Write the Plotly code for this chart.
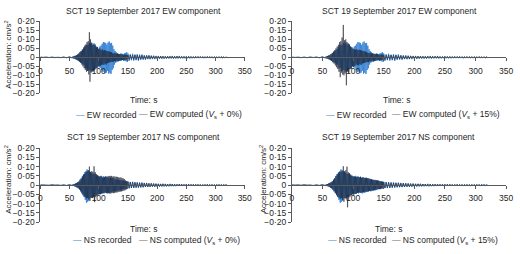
import plotly.graph_objects as go

W, H = 520, 254

# ---------------- data ----------------
time_s = [0, 5, 10, 15, 20, 25, 30, 35, 40, 45, 50, 55] + list(range(56, 151)) + list(range(152, 321, 2))

ew_recorded = [
    0.001, -0.001, 0.002, -0.001, 0.001, -0.002, 0.001, -0.001, 0.002, -0.002, 0.003, -0.004,
    0.005, -0.006, 0.008, -0.007, 0.010, -0.012, 0.009, -0.015, 0.018, -0.020,
    0.022, -0.025, 0.030, -0.028, 0.035, -0.032, 0.040, -0.038, 0.045, -0.042,
    0.055, -0.060, 0.065, -0.058, 0.070, -0.075, 0.068, -0.072, 0.080, -0.070,
    0.075, -0.078, 0.082, -0.080, 0.070, -0.075, 0.078, -0.068, 0.072, -0.065,
    0.060, -0.058, 0.055, -0.050, 0.048, -0.055, 0.060, -0.058, 0.065, -0.070,
    0.075, -0.080, 0.085, -0.078, 0.082, -0.088, 0.080, -0.085, 0.070, -0.075,
    0.082, -0.090, 0.088, -0.085, 0.078, -0.092, 0.080, -0.070, 0.065, -0.060,
    0.045, -0.040, 0.035, -0.030, 0.028, -0.025, 0.022, -0.025, 0.020, -0.018,
    0.018, -0.020, 0.022, -0.018, 0.020, -0.015, 0.018, -0.020, 0.022, -0.020,
    0.025, -0.022, 0.028, -0.025, 0.022,
    -0.020, 0.018, -0.016, 0.020, -0.018, 0.015, -0.016, 0.018, -0.020, 0.015,
    -0.014, 0.016, -0.013, 0.012, -0.014, 0.012, -0.010, 0.012, -0.011, 0.010,
    -0.010, 0.009, -0.010, 0.008, -0.009, 0.008, -0.008, 0.007, -0.008, 0.007,
    -0.007, 0.006, -0.007, 0.006, -0.006, 0.007, -0.006, 0.008, -0.007, 0.006,
    -0.006, 0.007, -0.006, 0.008, -0.006, 0.005, -0.006, 0.005, -0.005, 0.006,
    -0.005, 0.005, -0.006, 0.005, -0.005, 0.004, -0.005, 0.005, -0.004, 0.005,
    -0.004, 0.005, -0.004, 0.004, -0.005, 0.004, -0.004, 0.005, -0.004, 0.004,
    -0.004, 0.004, -0.005, 0.004, -0.004, 0.003, -0.004, 0.004, -0.003, 0.004,
    -0.003, 0.003, -0.003, 0.002, -0.002,
]

ew_computed_0 = [
    0.001, -0.001, 0.001, -0.001, 0.001, -0.001, 0.001, -0.002, 0.001, -0.002, 0.002, -0.003,
    0.004, -0.005, 0.006, -0.008, 0.007, -0.010, 0.012, -0.015, 0.014, -0.018,
    0.020, -0.024, 0.028, -0.030, 0.035, -0.040, 0.045, -0.050, 0.055, -0.060,
    0.065, -0.070, 0.072, -0.080, 0.085, -0.075, 0.090, -0.095, 0.140, -0.135,
    0.100, -0.085, 0.080, -0.075, 0.070, -0.078, 0.072, -0.068, 0.065, -0.060,
    0.055, -0.060, 0.058, -0.050, 0.045, -0.048, 0.050, -0.045, 0.040, -0.042,
    0.045, -0.040, 0.038, -0.042, 0.040, -0.035, 0.038, -0.040, 0.035, -0.032,
    0.035, -0.030, 0.032, -0.028, 0.030, -0.025, 0.028, -0.025, 0.022, -0.025,
    0.022, -0.020, 0.025, -0.022, 0.020, -0.018, 0.022, -0.020, 0.018, -0.020,
    0.018, -0.016, 0.018, -0.015, 0.016, -0.015, 0.014, -0.016, 0.015, -0.014,
    0.015, -0.013, 0.014, -0.012, 0.013,
    -0.012, 0.013, -0.011, 0.012, -0.012, 0.014, -0.011, 0.012, -0.013, 0.011,
    -0.010, 0.011, -0.010, 0.009, -0.010, 0.009, -0.008, 0.009, -0.008, 0.008,
    -0.007, 0.008, -0.007, 0.006, -0.007, 0.006, -0.006, 0.007, -0.006, 0.005,
    -0.006, 0.005, -0.005, 0.006, -0.005, 0.005, -0.005, 0.006, -0.005, 0.005,
    -0.005, 0.006, -0.005, 0.005, -0.004, 0.005, -0.004, 0.005, -0.005, 0.004,
    -0.004, 0.005, -0.004, 0.004, -0.004, 0.004, -0.004, 0.005, -0.004, 0.004,
    -0.004, 0.004, -0.003, 0.004, -0.004, 0.003, -0.004, 0.004, -0.003, 0.004,
    -0.003, 0.003, -0.004, 0.003, -0.003, 0.003, -0.003, 0.003, -0.003, 0.003,
    -0.003, 0.002, -0.002, 0.002, -0.002,
]

ew_computed_15 = [
    0.001, -0.001, 0.001, -0.002, 0.001, -0.001, 0.002, -0.001, 0.001, -0.002, 0.002, -0.003,
    0.004, -0.006, 0.007, -0.008, 0.010, -0.012, 0.014, -0.016, 0.018, -0.020,
    0.025, -0.028, 0.032, -0.035, 0.040, -0.045, 0.050, -0.055, 0.060, -0.065,
    0.070, -0.080, 0.085, -0.110, 0.090, -0.085, 0.110, -0.095, 0.180, -0.100,
    0.095, -0.090, 0.100, -0.155, 0.085, -0.080, 0.075, -0.085, 0.070, -0.065,
    0.060, -0.065, 0.055, -0.050, 0.048, -0.052, 0.045, -0.048, 0.042, -0.040,
    0.045, -0.042, 0.040, -0.045, 0.042, -0.038, 0.040, -0.042, 0.038, -0.035,
    0.036, -0.032, 0.034, -0.030, 0.032, -0.028, 0.030, -0.026, 0.025, -0.027,
    0.024, -0.022, 0.026, -0.023, 0.021, -0.020, 0.023, -0.021, 0.019, -0.021,
    0.019, -0.017, 0.019, -0.016, 0.017, -0.016, 0.015, -0.017, 0.016, -0.015,
    0.016, -0.014, 0.015, -0.013, 0.014,
    -0.013, 0.012, -0.012, 0.013, -0.011, 0.013, -0.012, 0.011, -0.012, 0.012,
    -0.010, 0.010, -0.009, 0.010, -0.009, 0.008, -0.009, 0.008, -0.008, 0.007,
    -0.008, 0.007, -0.006, 0.007, -0.006, 0.006, -0.007, 0.006, -0.005, 0.006,
    -0.005, 0.006, -0.005, 0.005, -0.006, 0.005, -0.004, 0.005, -0.005, 0.005,
    -0.004, 0.005, -0.004, 0.005, -0.005, 0.004, -0.004, 0.004, -0.004, 0.005,
    -0.004, 0.004, -0.003, 0.004, -0.004, 0.004, -0.003, 0.004, -0.004, 0.003,
    -0.003, 0.004, -0.003, 0.003, -0.003, 0.004, -0.003, 0.003, -0.003, 0.003,
    -0.003, 0.003, -0.003, 0.003, -0.002, 0.003, -0.002, 0.003, -0.002, 0.002,
    -0.002, 0.002, -0.002, 0.002, -0.001,
]

ns_recorded = [
    0.001, -0.001, 0.001, -0.001, 0.002, -0.001, 0.001, -0.002, 0.001, -0.002, 0.002, -0.003,
    0.004, -0.005, 0.006, -0.007, 0.009, -0.010, 0.012, -0.014, 0.016, -0.018,
    0.020, -0.025, 0.030, -0.035, 0.038, -0.045, 0.050, -0.055, 0.060, -0.065,
    0.070, -0.080, 0.075, -0.095, 0.085, -0.090, 0.080, -0.085, 0.075, -0.070,
    0.072, -0.068, 0.065, -0.070, 0.060, -0.065, 0.062, -0.058, 0.060, -0.055,
    0.052, -0.055, 0.050, -0.048, 0.045, -0.050, 0.048, -0.045, 0.050, -0.048,
    0.045, -0.042, 0.048, -0.045, 0.042, -0.040, 0.045, -0.042, 0.040, -0.045,
    0.042, -0.040, 0.038, -0.042, 0.040, -0.038, 0.036, -0.035, 0.038, -0.034,
    0.035, -0.032, 0.030, -0.034, 0.032, -0.030, 0.028, -0.030, 0.027, -0.028,
    0.026, -0.028, 0.025, -0.024, 0.026, -0.022, 0.024, -0.022, 0.020, -0.022,
    0.020, -0.018, 0.019, -0.017, 0.018,
    -0.016, 0.017, -0.015, 0.016, -0.014, 0.015, -0.013, 0.014, -0.013, 0.012,
    -0.012, 0.013, -0.011, 0.012, -0.010, 0.011, -0.010, 0.010, -0.009, 0.010,
    -0.009, 0.008, -0.009, 0.008, -0.008, 0.007, -0.008, 0.007, -0.007, 0.008,
    -0.007, 0.006, -0.007, 0.006, -0.006, 0.007, -0.006, 0.006, -0.006, 0.005,
    -0.006, 0.005, -0.005, 0.006, -0.005, 0.005, -0.005, 0.004, -0.005, 0.005,
    -0.004, 0.005, -0.004, 0.005, -0.004, 0.004, -0.005, 0.004, -0.004, 0.004,
    -0.004, 0.004, -0.004, 0.003, -0.004, 0.004, -0.003, 0.004, -0.003, 0.003,
    -0.003, 0.004, -0.003, 0.003, -0.003, 0.003, -0.003, 0.003, -0.003, 0.003,
    -0.002, 0.003, -0.002, 0.002, -0.002,
]

ns_computed_0 = [
    0.001, -0.001, 0.001, -0.001, 0.001, -0.001, 0.001, -0.001, 0.001, -0.002, 0.002, -0.002,
    0.003, -0.004, 0.005, -0.006, 0.008, -0.009, 0.010, -0.012, 0.014, -0.016,
    0.018, -0.022, 0.026, -0.030, 0.034, -0.040, 0.045, -0.050, 0.055, -0.060,
    0.060, -0.065, 0.070, -0.072, 0.075, -0.070, 0.080, -0.078, 0.100, -0.085,
    0.070, -0.068, 0.075, -0.070, 0.072, -0.065, 0.102, -0.092, 0.070, -0.065,
    0.060, -0.058, 0.055, -0.052, 0.050, -0.048, 0.045, -0.050, 0.048, -0.045,
    0.042, -0.045, 0.040, -0.042, 0.045, -0.040, 0.048, -0.044, 0.046, -0.042,
    0.048, -0.044, 0.050, -0.046, 0.048, -0.045, 0.050, -0.042, 0.046, -0.044,
    0.048, -0.042, 0.045, -0.040, 0.046, -0.040, 0.044, -0.038, 0.042, -0.036,
    0.040, -0.035, 0.042, -0.034, 0.038, -0.032, 0.036, -0.030, 0.032, -0.028,
    0.026, -0.024, 0.022, -0.020, 0.020,
    -0.018, 0.017, -0.016, 0.018, -0.015, 0.016, -0.014, 0.015, -0.013, 0.014,
    -0.012, 0.013, -0.012, 0.011, -0.010, 0.012, -0.010, 0.009, -0.010, 0.009,
    -0.008, 0.009, -0.008, 0.007, -0.008, 0.007, -0.007, 0.006, -0.007, 0.006,
    -0.006, 0.007, -0.006, 0.005, -0.006, 0.005, -0.005, 0.006, -0.005, 0.005,
    -0.005, 0.004, -0.005, 0.005, -0.004, 0.005, -0.004, 0.004, -0.004, 0.005,
    -0.004, 0.004, -0.004, 0.003, -0.004, 0.004, -0.003, 0.004, -0.003, 0.004,
    -0.003, 0.003, -0.004, 0.003, -0.003, 0.003, -0.003, 0.004, -0.003, 0.003,
    -0.003, 0.003, -0.003, 0.002, -0.003, 0.003, -0.002, 0.003, -0.002, 0.002,
    -0.002, 0.002, -0.002, 0.002, -0.001,
]

ns_computed_15 = [
    0.001, -0.001, 0.002, -0.001, 0.001, -0.001, 0.001, -0.002, 0.001, -0.001, 0.002, -0.003,
    0.003, -0.004, 0.006, -0.006, 0.008, -0.010, 0.011, -0.013, 0.015, -0.017,
    0.020, -0.024, 0.028, -0.032, 0.036, -0.042, 0.048, -0.052, 0.058, -0.062,
    0.065, -0.068, 0.070, -0.075, 0.072, -0.070, 0.078, -0.080, 0.102, -0.090,
    0.075, -0.072, 0.080, -0.078, 0.100, -0.120, 0.070, -0.068, 0.065, -0.062,
    0.058, -0.055, 0.052, -0.050, 0.048, -0.052, 0.046, -0.048, 0.044, -0.046,
    0.045, -0.042, 0.044, -0.040, 0.042, -0.040, 0.045, -0.042, 0.040, -0.038,
    0.042, -0.038, 0.040, -0.036, 0.038, -0.036, 0.040, -0.035, 0.036, -0.034,
    0.035, -0.032, 0.034, -0.030, 0.032, -0.030, 0.030, -0.028, 0.029, -0.027,
    0.028, -0.025, 0.026, -0.024, 0.025, -0.022, 0.023, -0.021, 0.022, -0.020,
    0.020, -0.019, 0.018, -0.017, 0.017,
    -0.016, 0.015, -0.016, 0.014, -0.015, 0.013, -0.014, 0.013, -0.012, 0.013,
    -0.011, 0.012, -0.011, 0.010, -0.011, 0.010, -0.009, 0.010, -0.009, 0.008,
    -0.009, 0.008, -0.007, 0.008, -0.007, 0.007, -0.006, 0.007, -0.006, 0.006,
    -0.006, 0.006, -0.005, 0.006, -0.005, 0.005, -0.006, 0.005, -0.005, 0.005,
    -0.004, 0.005, -0.005, 0.004, -0.005, 0.004, -0.004, 0.005, -0.004, 0.004,
    -0.004, 0.004, -0.003, 0.004, -0.004, 0.003, -0.004, 0.003, -0.003, 0.004,
    -0.003, 0.003, -0.003, 0.004, -0.003, 0.003, -0.003, 0.003, -0.003, 0.003,
    -0.003, 0.002, -0.003, 0.003, -0.002, 0.003, -0.002, 0.002, -0.002, 0.003,
    -0.002, 0.002, -0.002, 0.001, -0.001,
]

panel_titles = ["SCT 19 September 2017 EW component", "SCT 19 September 2017 EW component",
                "SCT 19 September 2017 NS component", "SCT 19 September 2017 NS component"]
recorded_names = ["EW recorded", "EW recorded", "NS recorded", "NS recorded"]
computed_names = ["EW computed (<i>V</i><sub>s</sub> + 0%)", "EW computed (<i>V</i><sub>s</sub> + 15%)",
                  "NS computed (<i>V</i><sub>s</sub> + 0%)", "NS computed (<i>V</i><sub>s</sub> + 15%)"]
recorded_series = [ew_recorded, ew_recorded, ns_recorded, ns_recorded]
computed_series = [ew_computed_0, ew_computed_15, ns_computed_0, ns_computed_15]

y_tick_vals = [0.20, 0.15, 0.10, 0.05, 0, -0.05, -0.10, -0.15, -0.20]
y_tick_text = ["0·20", "0·15", "0·10", "0·05", "0", "−0·05", "−0·10", "−0·15", "−0·20"]
x_tick_vals = [0, 50, 100, 150, 200, 250, 300, 350]

# ---------------- style ----------------
FONT = "Liberation Sans, Arial, sans-serif"
FS = 8.5
TXT = "#262626"
AX = "#595959"
BLUE = "#3f88d6"
GRAY = "rgba(28,32,46,0.7)"

# panel geometry (pixels)
x_doms = [(39, 247), (295, 513), (39, 247), (295, 513)]
y_doms = [(17, 92), (17, 92), (149, 226), (149, 226)]
title_pos = [(144, 6), (404, 6), (144, 137), (403, 137)]
time_pos = [(145, 99), (402, 99), (145, 233), (394, 233)]
legend_pos = [((73, 137), 114), ((328, 395), 114), ((70, 137), 245), ((330, 395), 245)]
ytitle_pos = [(6, 52), None, (6, 182), (265, 181)]

fig = go.Figure()
annotations = []
layout_axes = {}

for i in range(4):
    sfx = "" if i == 0 else str(i + 1)
    fig.add_trace(go.Scatter(x=time_s, y=recorded_series[i], mode="lines",
                             line=dict(color=BLUE, width=1), name=recorded_names[i],
                             xaxis="x" + sfx, yaxis="y" + sfx, showlegend=False))
    fig.add_trace(go.Scatter(x=time_s, y=computed_series[i], mode="lines",
                             line=dict(color=GRAY, width=0.8), name=computed_names[i],
                             xaxis="x" + sfx, yaxis="y" + sfx, showlegend=False))
    x0, x1 = x_doms[i]
    ytop, ybot = y_doms[i]
    ydom = [1 - ybot / H, 1 - ytop / H]
    zero_pos = (ydom[0] + ydom[1]) / 2
    layout_axes["xaxis" + sfx] = dict(
        domain=[x0 / W, x1 / W], range=[0, 350], anchor="free", position=zero_pos,
        tickvals=x_tick_vals, ticks="outside", ticklen=3, tickcolor=AX, tickwidth=1,
        ticklabelstandoff=2,
        showline=True, linecolor=AX, linewidth=1, showgrid=False, zeroline=False,
        tickfont=dict(family=FONT, size=FS, color=TXT), fixedrange=True,
    )
    layout_axes["yaxis" + sfx] = dict(
        domain=ydom, range=[-0.2, 0.2], anchor="x" + sfx,
        tickvals=y_tick_vals, ticktext=y_tick_text, ticks="outside", ticklen=3,
        tickcolor=AX, tickwidth=1, showline=True, linecolor=AX, linewidth=1,
        showgrid=False, zeroline=False,
        tickfont=dict(family=FONT, size=FS, color=TXT), fixedrange=True,
    )

    # annotation placement relative to this panel's axis domains
    xr = "x" + sfx + " domain"
    yr = "y" + sfx + " domain"

    def fx(xp, x0=x0, x1=x1):
        return (xp - x0) / (x1 - x0)

    def fy(yp, ytop=ytop, ybot=ybot):
        return (ybot - yp) / (ybot - ytop)

    common = dict(xref=xr, yref=yr, showarrow=False, font=dict(family=FONT, size=FS, color=TXT))
    tx, ty = title_pos[i]
    annotations.append(dict(text=panel_titles[i], x=fx(tx), y=fy(ty),
                            xanchor="center", yanchor="middle", **common))
    tx, ty = time_pos[i]
    annotations.append(dict(text="Time: s", x=fx(tx), y=fy(ty),
                            xanchor="center", yanchor="middle", **common))
    (lx1, lx2), ly = legend_pos[i]
    annotations.append(dict(text=f"<span style='color:{BLUE}'>—</span> " + recorded_names[i],
                            x=fx(lx1), y=fy(ly), xanchor="left", yanchor="middle", **common))
    annotations.append(dict(text="<span style='color:#707070'>—</span> " + computed_names[i],
                            x=fx(lx2), y=fy(ly), xanchor="left", yanchor="middle", **common))
    if ytitle_pos[i] is not None:
        ax_, ay_ = ytitle_pos[i]
        annotations.append(dict(text="Acceleration: cm/s<sup>2</sup>", x=fx(ax_), y=fy(ay_),
                                textangle=-90, xanchor="center", yanchor="middle",
                                xref=xr, yref=yr, showarrow=False,
                                font=dict(family=FONT, size=8, color=TXT)))

fig.update_layout(
    width=W, height=H, margin=dict(l=0, r=0, t=0, b=0),
    paper_bgcolor="white", plot_bgcolor="white",
    showlegend=False, annotations=annotations,
    font=dict(family=FONT, size=FS, color=TXT),
    **layout_axes,
)

fig.write_html("out.html", config={"displayModeBar": False})
